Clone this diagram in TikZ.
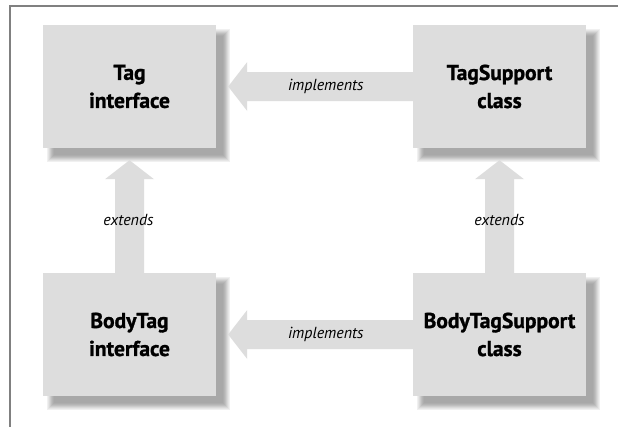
\documentclass[tikz,border=0pt]{standalone}
\usepackage{fontspec}
\usetikzlibrary{calc}
\newfontfamily\boxfont[BoldFeatures={FakeBold=1.2}]{PT Sans}
\newfontfamily\labelfont{PT Sans}
\definecolor{boxfill}{HTML}{DDDDDD}
\definecolor{framecol}{HTML}{808080}
\tikzset{
  classbox/.style={fill=boxfill, minimum width=173pt, minimum height=123pt, inner sep=0pt,
    align=center, font=\boxfont\bfseries\fontsize{21.5}{28}\selectfont},
  relarrow/.style={fill=boxfill},
  rellabel/.style={font=\labelfont\itshape\fontsize{16}{19}\selectfont, inner sep=0pt}
}
\newcommand{\softshadow}[1]{%
  \foreach \e/\g in {5/94,4/90,3/85,2/80,1/75,0/71,-1/68,-2/66}{%
    \fill[black!\the\numexpr100-\g\relax] ($(#1.north west)+(9-\e,9-\e)$) rectangle ($(#1.south east)+(9+\e,9+\e)$);
  }%
}
\begin{document}
\begin{tikzpicture}[x=1pt,y=-1pt]
\useasboundingbox (0,0) rectangle (624,426);
\fill[white] (0,0) rectangle (624,426);
\draw[framecol, line width=2pt] (10,427) -- (10,6) -- (618,6);

\path
  (129.5,86.5) coordinate (ctag)
  (499.5,86.5) coordinate (cts)
  (129.5,334.5) coordinate (cbt)
  (499.5,334.5) coordinate (cbts);

% invisible placeholders for geometry
\node[classbox, fill=none] (tag) at (ctag) {};
\node[classbox, fill=none] (ts) at (cts) {};
\node[classbox, fill=none] (bt) at (cbt) {};
\node[classbox, fill=none] (bts) at (cbts) {};

\softshadow{tag}
\softshadow{ts}
\softshadow{bt}
\softshadow{bts}

% implements (top)
\fill[relarrow] ($(ts.west)+(0,-14.5)$) -- ($(tag.east)+(31,-14.5)$) -- ($(tag.east)+(31,-24.5)$)
  -- ($(tag.east)+(12,0)$) -- ($(tag.east)+(31,24.5)$) -- ($(tag.east)+(31,14.5)$) -- ($(ts.west)+(0,14.5)$) -- cycle;
% implements (bottom)
\fill[relarrow] ($(bts.west)+(0,-14.5)$) -- ($(bt.east)+(31,-14.5)$) -- ($(bt.east)+(31,-24.5)$)
  -- ($(bt.east)+(12,0)$) -- ($(bt.east)+(31,24.5)$) -- ($(bt.east)+(31,14.5)$) -- ($(bts.west)+(0,14.5)$) -- cycle;
% extends (left)
\fill[relarrow] ($(bt.north)+(-14.5,0)$) -- ($(tag.south)+(-14.5,31)$) -- ($(tag.south)+(-24.5,31)$)
  -- ($(tag.south)+(0,12)$) -- ($(tag.south)+(24.5,31)$) -- ($(tag.south)+(14.5,31)$) -- ($(bt.north)+(14.5,0)$) -- cycle;
% extends (right)
\fill[relarrow] ($(bts.north)+(-14.5,0)$) -- ($(ts.south)+(-14.5,31)$) -- ($(ts.south)+(-24.5,31)$)
  -- ($(ts.south)+(0,12)$) -- ($(ts.south)+(24.5,31)$) -- ($(ts.south)+(14.5,31)$) -- ($(bts.north)+(14.5,0)$) -- cycle;

\node[classbox] (tagv) at (ctag) {Tag\\interface};
\node[classbox] (tsv) at (cts) {TagSupport\\class};
\node[classbox] (btv) at (cbt) {BodyTag\\interface};
\node[classbox] (btsv) at (cbts) {BodyTagSupport\\class};

\node[rellabel] (l1) at ($(ts.west)+(-87,0)$) {implements};
\node[rellabel] (l2) at ($(bts.west)+(-87,0)$) {implements};
\node[rellabel] (l3) at ($(tag.south)+(-1,72)$) {extends};
\node[rellabel] (l4) at ($(ts.south)+(0,72)$) {extends};
\end{tikzpicture}
\end{document}
